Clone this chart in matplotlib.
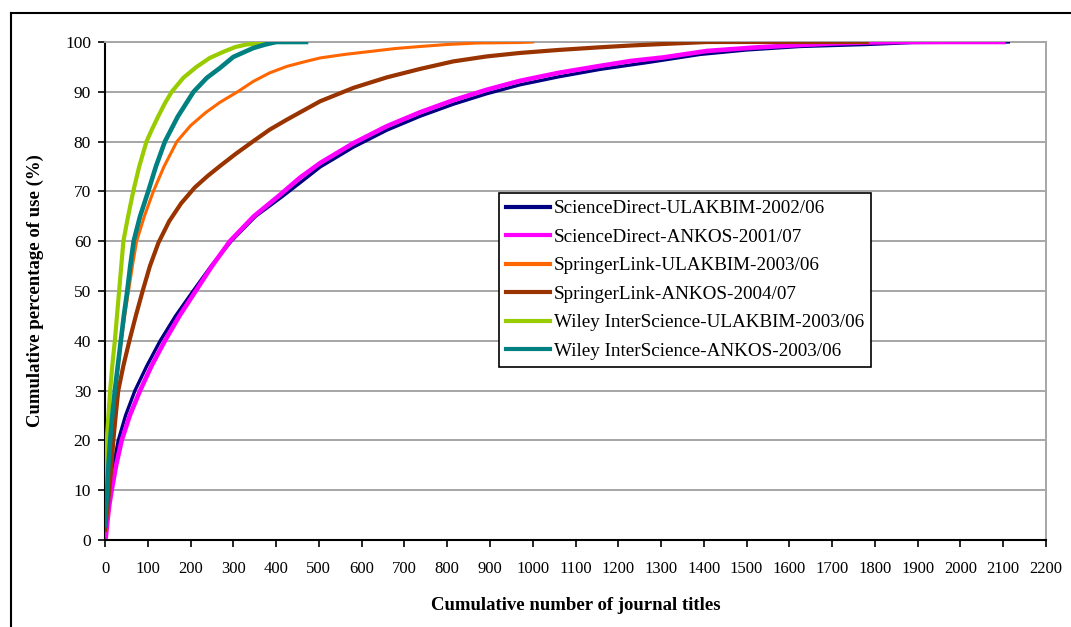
import matplotlib
matplotlib.use("Agg")
import matplotlib.pyplot as plt
from matplotlib.lines import Line2D

# ---- Data ----
labels = [
    "ScienceDirect-ULAKBIM-2002/06",
    "ScienceDirect-ANKOS-2001/07",
    "SpringerLink-ULAKBIM-2003/06",
    "SpringerLink-ANKOS-2004/07",
    "Wiley InterScience-ULAKBIM-2003/06",
    "Wiley InterScience-ANKOS-2003/06",
]

sd_ulakbim_x = [1, 5, 12, 20, 31, 48, 70, 98, 129, 165, 206, 248, 295, 352, 415, 460, 503, 581, 659,
                737, 814, 892, 970, 1060, 1157, 1270, 1391, 1500, 1625, 1781, 1890, 2112]
sd_ulakbim_y = [1, 5, 10, 15, 20, 25, 30, 35, 40, 45, 50, 55, 60, 65, 69.0, 72.0, 74.9, 78.9, 82.3,
                85.1, 87.5, 89.6, 91.4, 93.0, 94.5, 95.9, 97.5, 98.4, 99.1, 99.5, 99.9, 100]

sd_ankos_x = [2, 6, 10, 15.6, 26, 39, 58, 82, 109, 140, 174, 212, 250, 292, 348, 409, 455, 503, 581,
              659, 737, 814, 892, 970, 1060, 1150, 1230, 1305, 1407, 1520, 1625, 1700, 1781, 1850, 2100]
sd_ankos_y = [0.7, 4, 7, 10, 15, 20, 25, 30, 35, 40, 45, 50, 55, 60, 65, 69.3, 72.7, 75.7, 79.7,
              83.1, 85.9, 88.3, 90.4, 92.2, 93.8, 95.1, 96.2, 96.9, 98.2, 98.9, 99.4, 99.7, 99.9, 100, 100]

sl_ulakbim_x = [0, 4, 12, 18, 24, 31, 38, 46, 55, 64, 74, 92, 113, 138, 168, 200, 235, 269, 310, 347,
                385, 425, 465, 503, 560, 620, 680, 737, 800, 870, 970, 1000]
sl_ulakbim_y = [5, 10, 20, 25, 30, 35, 40, 45, 50, 55, 60, 65, 70, 75, 80, 83.2, 85.8, 87.9, 90.0, 92.1,
                93.8, 95.1, 96.0, 96.8, 97.5, 98.1, 98.7, 99.1, 99.5, 99.8, 99.9, 100]

sl_ankos_x = [0, 4, 10, 15, 19.5, 25, 31, 43, 57, 72, 88, 105, 125, 150, 178, 210, 240, 269, 305, 347,
              385, 425, 503, 581, 659, 737, 814, 892, 970, 1060, 1150, 1230, 1305, 1407, 1781]
sl_ankos_y = [2, 5, 10, 15, 20, 25, 30, 35, 40, 45, 50, 55, 59.7, 64, 67.6, 70.8, 73.1, 75.1, 77.5, 80.1,
              82.4, 84.4, 88.1, 90.8, 92.9, 94.6, 96.1, 97.1, 97.8, 98.4, 98.9, 99.3, 99.6, 100, 100]

wi_ulakbim_x = [0, 1, 2, 4, 8, 12, 17, 23, 28, 33, 38, 43, 54, 66, 80, 97, 110, 124, 140, 156, 183,
                214, 245, 276, 305, 331, 365, 400]
wi_ulakbim_y = [5, 10, 15, 20, 25, 30, 35, 40, 45, 50, 55, 60, 65, 70, 75, 80, 82.5, 85, 87.7, 90,
                92.8, 95, 96.8, 98, 99, 99.5, 99.8, 100]

wi_ankos_x = [0, 2, 5, 8, 12, 17, 23, 30, 37, 44, 52, 59, 67, 82, 101, 119, 140, 170, 207, 238, 269,
              300, 347, 375, 400, 470]
wi_ankos_y = [3, 6, 10, 15, 20, 25, 30, 35, 40, 45, 50, 55, 60, 65, 70, 75, 80, 85, 90, 92.8, 94.8,
              97, 98.8, 99.5, 100, 100]

series_x = [sd_ulakbim_x, sd_ankos_x, sl_ulakbim_x, sl_ankos_x, wi_ulakbim_x, wi_ankos_x]
series_y = [sd_ulakbim_y, sd_ankos_y, sl_ulakbim_y, sl_ankos_y, wi_ulakbim_y, wi_ankos_y]

colors = ["#000080", "#FF00FF", "#FF6600", "#993300", "#99CC00", "#008080"]
widths = [2.4, 3.3, 2.2, 3.0, 3.0, 3.3]

x_ticks = list(range(0, 2201, 100))
y_ticks = list(range(0, 101, 10))

# ---- Figure ----
plt.rcParams["font.family"] = ["Liberation Serif", "DejaVu Serif"]

fig = plt.figure(figsize=(10.71, 6.27), dpi=100)
fig.patch.set_facecolor("white")
ax = fig.add_axes([105 / 1071, 1 - 540 / 627, 941 / 1071, 498 / 627])

for xs, ys, c, lw, lab in zip(series_x, series_y, colors, widths, labels):
    ax.plot(xs, ys, color=c, lw=lw, label=lab, solid_joinstyle="round", zorder=3)

ax.set_xlim(0, 2200)
ax.set_ylim(0, 100)
ax.set_xticks(x_ticks)
ax.set_yticks(y_ticks)
ax.tick_params(axis="x", direction="out", length=5, width=1.2, pad=10, labelsize=12)
ax.tick_params(axis="y", direction="out", length=5, width=1.2, pad=5, labelsize=12.5)

ax.grid(axis="y", color="#a6a6a6", lw=1.4, zorder=0)
ax.set_axisbelow(True)

for side in ["left", "bottom"]:
    ax.spines[side].set_color("black")
    ax.spines[side].set_linewidth(1.5)
for side in ["top", "right"]:
    ax.spines[side].set_color("#a6a6a6")
    ax.spines[side].set_linewidth(1.4)

ax.set_xlabel("Cumulative number of journal titles", fontsize=13.5, fontweight="bold", va="center")
ax.xaxis.set_label_coords(0.5, -0.1325)
ax.set_ylabel("Cumulative percentage of use (%)", fontsize=13.5, fontweight="bold", va="center")
ax.yaxis.set_label_coords(-0.0745, 0.5)

leg = ax.legend(
    loc="upper left", bbox_to_anchor=((499 - 105) / 941, (540 - 193) / 498),
    borderaxespad=0, fancybox=False, framealpha=1, edgecolor="black",
    fontsize=13.8, handlelength=2.3, handletextpad=0.2, labelspacing=0.58,
    borderpad=0.36,
)
leg.get_frame().set_linewidth(1.2)
for h in leg.get_lines():
    h.set_linewidth(3)

# outer chart frame (only left and top edges fall inside the picture)
fig.add_artist(Line2D([11 / 1071, 11 / 1071], [1 - 13 / 627, -0.1], color="black", lw=1.5,
                      transform=fig.transFigure))
fig.add_artist(Line2D([11 / 1071, 1.1], [1 - 13 / 627, 1 - 13 / 627], color="black", lw=1.5,
                      transform=fig.transFigure))

fig.savefig("out.png", dpi=100)
plt.close(fig)
